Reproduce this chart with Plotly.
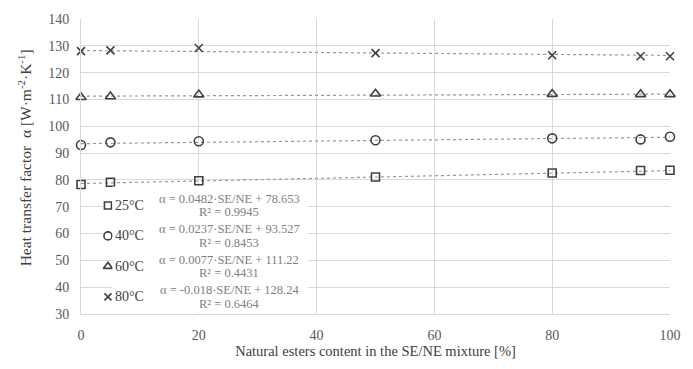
import plotly.graph_objects as go

# ---- data ----
x_content = [0, 5, 20, 50, 80, 95, 100]
temps = ["25°C", "40°C", "60°C", "80°C"]
alpha_25 = [78.3, 79.1, 79.7, 81.1, 82.6, 83.5, 83.6]
alpha_40 = [93.0, 94.0, 94.4, 94.8, 95.5, 95.1, 96.1]
alpha_60 = [110.8, 111.1, 111.8, 112.1, 112.0, 111.9, 111.9]
alpha_80 = [128.0, 128.3, 129.2, 127.3, 126.5, 126.1, 126.1]
trend_slope = [0.0482, 0.0237, 0.0077, -0.018]
trend_intercept = [78.653, 93.527, 111.22, 128.24]
eq_texts = ["α = 0.0482·SE/NE + 78.653", "α = 0.0237·SE/NE + 93.527",
            "α = 0.0077·SE/NE + 111.22", "α = -0.018·SE/NE + 128.24"]
r2_texts = ["R² = 0.9945", "R² = 0.8453", "R² = 0.4431", "R² = 0.6464"]
x_ticks = [0, 20, 40, 60, 80, 100]
y_ticks = [30, 40, 50, 60, 70, 80, 90, 100, 110, 120, 130, 140]
x_title = "Natural esters content in the SE/NE mixture [%]"
y_title = "Heat transfer factor\u00a0\u00a0α\u00a0[W·m<sup>-2</sup>·K<sup>-1</sup>]"

series = [alpha_25, alpha_40, alpha_60, alpha_80]
symbols = ["square-open", "circle-open", "triangle-up-open", "x-thin-open"]
legend_symbols = ["square", "circle", "triangle-up", "x-thin"]
sizes = [8, 9, 9, 8]

FONT = "Liberation Serif, Tinos, 'Times New Roman', serif"
MK = "#404040"
GRID = "#d9d9d9"

# plot area in pixels
W, H = 693, 369
L, R, T, B = 81, 22, 17, 49
PW, PH = W - L - R, H - T - B
def px(x):
    return (x - L) / PW
def py(y):
    return (H - B - y) / PH

fig = go.Figure()

# trendlines
for a, b in zip(trend_slope, trend_intercept):
    xs = [x_content[0], x_content[-1]]
    fig.add_trace(go.Scatter(x=xs, y=[a * v + b for v in xs], mode="lines",
                             line=dict(color="#999999", width=1.2, dash="dot"),
                             showlegend=False, hoverinfo="skip", cliponaxis=False))

# data markers
for name, ys, sym, sz in zip(temps, series, symbols, sizes):
    fig.add_trace(go.Scatter(x=x_content, y=ys, mode="markers", name=name,
                             cliponaxis=False,
                             marker=dict(symbol=sym, size=sz, color=MK,
                                         line=dict(color=MK, width=1.6)),
                             showlegend=False))

# custom legend: white box
fig.add_shape(type="rect", xref="paper", yref="paper",
              x0=px(112.5), x1=px(308), y0=py(319), y1=py(189),
              fillcolor="white", line=dict(width=0), layer="above")

eq_y = [201.5, 232.8, 264.1, 295.4]
leg_x = 108
for i in range(4):
    ylab = eq_y[i] + 7
    fig.add_trace(go.Scatter(x=[px(leg_x)], y=[py(ylab)], xaxis="x2", yaxis="y2",
                             mode="markers", showlegend=False, hoverinfo="skip",
                             cliponaxis=False,
                             marker=dict(symbol=legend_symbols[i], size=sizes[i] - 1,
                                         color="white" if i < 3 else MK,
                                         line=dict(color=MK, width=1.6))))
    fig.add_annotation(x=px(113), y=py(ylab), xref="paper", yref="paper",
                       text=temps[i], showarrow=False, xanchor="left", yanchor="middle",
                       font=dict(family=FONT, size=14, color="#404040"))
    fig.add_annotation(x=px(229.5), y=py(eq_y[i]), xref="paper", yref="paper",
                       text=eq_texts[i], showarrow=False, xanchor="center", yanchor="middle",
                       borderpad=0,
                       font=dict(family=FONT, size=12.5, color="#808080"))
    fig.add_annotation(x=px(229.5), y=py(eq_y[i] + 14), xref="paper", yref="paper",
                       text=r2_texts[i], showarrow=False, xanchor="center", yanchor="middle",
                       borderpad=0,
                       font=dict(family=FONT, size=12.5, color="#808080"))

# y axis title as a rotated annotation
fig.add_annotation(x=px(25), y=py(160), xref="paper", yref="paper", text=y_title,
                   textangle=-90, showarrow=False, xanchor="center", yanchor="middle",
                   font=dict(family=FONT, size=15.5, color="#404040"))

fig.update_layout(
    width=W, height=H,
    margin=dict(l=L, r=R, t=T, b=B),
    paper_bgcolor="white", plot_bgcolor="white",
    font=dict(family=FONT, size=14, color="#595959"),
    xaxis=dict(range=[0, 100], tickvals=x_ticks, showgrid=True, gridcolor=GRID, gridwidth=1,
               showline=True, linecolor=GRID, mirror=False, zeroline=False,
               ticks="outside", ticklen=8, tickcolor="rgba(0,0,0,0)",
               tickfont=dict(family=FONT, size=14, color="#595959"),
               title=dict(text=x_title,
                          font=dict(family=FONT, size=14.5, color="#404040"), standoff=4)),
    yaxis=dict(range=[30, 140], tickvals=y_ticks, showgrid=True, gridcolor=GRID, gridwidth=1,
               showline=True, linecolor=GRID, zeroline=False,
               ticks="outside", ticklen=8, tickcolor="rgba(0,0,0,0)",
               tickfont=dict(family=FONT, size=14, color="#595959")),
    xaxis2=dict(range=[0, 1], overlaying="x", visible=False, fixedrange=True),
    yaxis2=dict(range=[0, 1], overlaying="y", visible=False, fixedrange=True),
    showlegend=False,
)

fig.write_html("out.html")
